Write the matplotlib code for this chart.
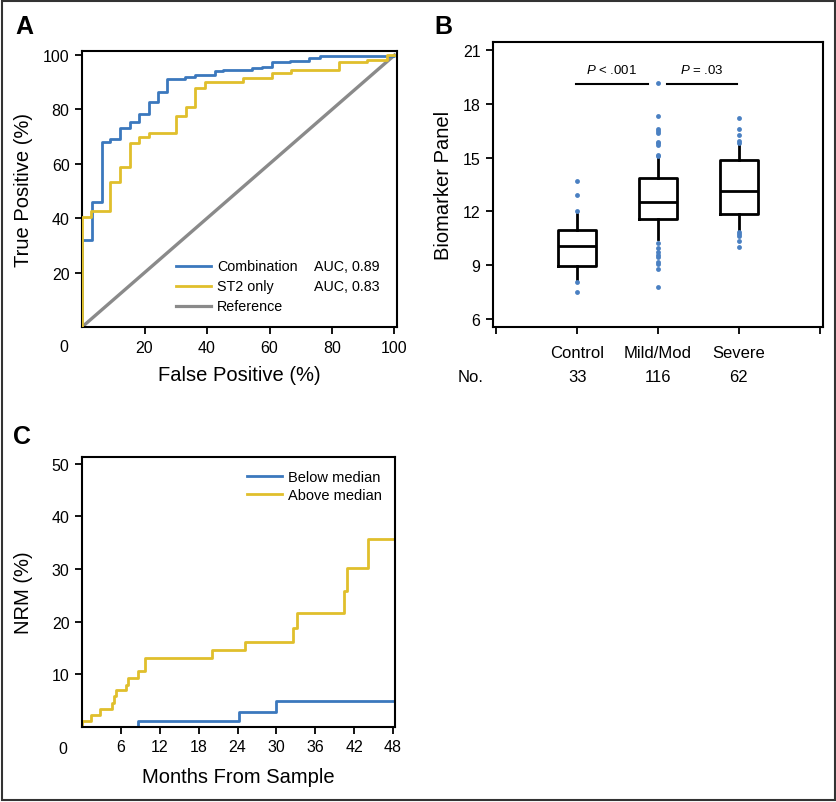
import matplotlib
matplotlib.use('Agg')
import matplotlib.pyplot as plt
from matplotlib.patches import Rectangle

plt.rcParams['font.family'] = ['Liberation Sans', 'DejaVu Sans']
plt.rcParams['mathtext.fontset'] = 'custom'
plt.rcParams['mathtext.it'] = 'Liberation Sans:italic'
plt.rcParams['mathtext.rm'] = 'Liberation Sans'

BLUE = '#3b78bd'
YELLOW = '#e0bf2c'
GRAY = '#8a8a8a'
DOT = '#4a80c2'

# Panel A: ROC curves (false positive %, true positive %)
combo_fpr = [0, 0, 3.3, 6.3, 8.9, 12.0, 15.2, 18.2, 21.4, 24.2, 27.2, 33.1, 36.3,
             42.7, 45.2, 54.4, 57.6, 60.8, 66.6, 72.8, 76.2, 100]
combo_tpr = [0, 32, 46, 68, 69.3, 73.2, 75.5, 78.3, 82.6, 86.5, 91.1, 91.8, 92.8,
             94.1, 94.6, 95.2, 95.8, 97.3, 97.9, 98.8, 99.5, 100]
st2_fpr = [0, 0, 3.0, 9.1, 12.1, 15.3, 18.2, 21.4, 30.2, 33.3, 36.3, 39.2, 51.4,
           60.8, 67.0, 82.1, 91.1, 97.5, 100]
st2_tpr = [0, 40.5, 42.8, 53.5, 59, 67.6, 69.8, 71.2, 77.7, 81, 87.8, 90, 91.6,
           93.4, 94.5, 97.3, 98.3, 100, 100]
ref_line = [0, 100]
roc_labels = ['Combination', 'ST2 only', 'Reference']
roc_auc = ['AUC, 0.89', 'AUC, 0.83', '']

# Panel B: box plot summary
groups = ['Control', 'Mild/Mod', 'Severe']
counts = ['33', '116', '62']
medians = [10.06, 12.54, 13.13]
q1s = [8.96, 11.57, 11.87]
q3s = [10.94, 13.87, 14.85]
whis_lo = [8.07, 10.48, 10.85]
whis_hi = [11.87, 15.11, 15.81]
fliers = [
    [13.72, 12.93, 12.02, 8.04, 7.48],
    [19.15, 17.35, 16.6, 16.5, 16.4, 15.9, 15.8, 15.7, 15.15, 15.07,
     10.26, 9.96, 9.74, 9.59, 9.44, 9.19, 9.04, 8.81, 7.8],
    [17.2, 16.6, 16.28, 15.94, 15.81, 10.85, 10.76, 10.63, 10.33, 10.02],
]

# Panel C: cumulative NRM (%) by months
below_t = [0, 8.7, 24.2, 29.9, 48]
below_v = [0, 1.1, 2.85, 4.95, 4.95]
above_t = [0, 0, 1.4, 2.8, 4.6, 5.0, 5.2, 6.8, 7.1, 8.7, 9.75, 20.0, 25.1,
           32.6, 33.1, 40.4, 40.9, 44.1, 48]
above_v = [0, 1.1, 2.3, 3.5, 4.6, 5.8, 7.0, 8.0, 9.4, 10.6, 13.2, 14.6, 16.1,
           18.9, 21.6, 25.9, 30.2, 35.8, 35.8]

fig = plt.figure(figsize=(8.37, 8.03), dpi=100)
fig.patches.append(Rectangle((0.002, 0.002), 0.996, 0.996, transform=fig.transFigure,
                             fill=False, edgecolor='#333333', lw=1.5))

def style(ax):
    for s in ax.spines.values():
        s.set_linewidth(1.5)
    ax.tick_params(direction='out', length=5, width=1.3, labelsize=11.5, pad=4)

# ---- A ----
axA = fig.add_axes([0.098, 0.5915, 0.3763, 0.3437])
style(axA)
axA.plot(ref_line, ref_line, color=GRAY, lw=2.4, zorder=1)
axA.plot(combo_fpr, combo_tpr, color=BLUE, lw=2.0, drawstyle='steps-post', zorder=2)
axA.plot(st2_fpr, st2_tpr, color=YELLOW, lw=2.0, drawstyle='steps-post', zorder=3)
axA.set_xlim(0, 100.8)
axA.set_ylim(0, 101.5)
axA.set_xticks([20, 40, 60, 80, 100])
axA.set_yticks([20, 40, 60, 80, 100])
axA.text(-0.058, -0.072, '0', transform=axA.transAxes, ha='center', va='center', fontsize=11.5)
axA.set_xlabel('False Positive (%)', fontsize=14.5)
axA.set_ylabel('True Positive (%)', fontsize=14.5)
axA.xaxis.set_label_coords(0.5, -0.138)
axA.yaxis.set_label_coords(-0.156, 0.5)
rows = [0.221, 0.149, 0.076]
for lab, auc, col, yr in zip(roc_labels, roc_auc, [BLUE, YELLOW, GRAY], rows):
    axA.plot([0.298, 0.41], [yr, yr], transform=axA.transAxes, color=col,
             lw=2.3 if col == GRAY else 2.0)
    axA.text(0.429, yr, lab, transform=axA.transAxes, va='center', fontsize=10.3)
    if auc:
        axA.text(0.737, yr, auc, transform=axA.transAxes, va='center', fontsize=10.3)
fig.text(0.029, 0.966, 'A', fontsize=18, fontweight='bold', ha='center', va='center')

# ---- B ----
axB = fig.add_axes([0.589, 0.5915, 0.3943, 0.3549])
style(axB)
stats = []
for i in range(3):
    stats.append(dict(med=medians[i], q1=q1s[i], q3=q3s[i], whislo=whis_lo[i],
                      whishi=whis_hi[i], fliers=fliers[i]))
axB.bxp(stats, positions=[1, 2, 3], widths=0.47, showcaps=False,
        boxprops=dict(color='black', lw=2),
        medianprops=dict(color='black', lw=2),
        whiskerprops=dict(color='black', lw=2),
        flierprops=dict(marker='o', markersize=3.5, markerfacecolor=DOT,
                        markeredgecolor='none'))
axB.set_xlim(-0.04, 4.04)
axB.set_ylim(5.55, 21.45)
axB.set_yticks([6, 9, 12, 15, 18, 21])
axB.set_xticks([0, 1, 2, 3, 4])
axB.set_xticklabels([''] + groups + [''], fontsize=12)
axB.tick_params(axis='x', pad=8)
axB.set_ylabel('Biomarker Panel', fontsize=14.5)
axB.yaxis.set_label_coords(-0.121, 0.5)
axB.text(-0.32, -0.175, 'No.', transform=axB.get_xaxis_transform(), ha='center',
         va='center', fontsize=12)
for i, n in enumerate(counts):
    axB.text(i + 1, -0.175, n, transform=axB.get_xaxis_transform(), ha='center',
             va='center', fontsize=12)
axB.plot([0.98, 1.88], [19.1, 19.1], color='black', lw=1.5)
axB.plot([2.11, 2.98], [19.1, 19.1], color='black', lw=1.5)
axB.text(1.43, 19.9, '$\\it{P}$ < .001', ha='center', va='center', fontsize=9.5)
axB.text(2.54, 19.9, '$\\it{P}$ = .03', ha='center', va='center', fontsize=9.5)
fig.text(0.53, 0.966, 'B', fontsize=18, fontweight='bold', ha='center', va='center')

# ---- C ----
axC = fig.add_axes([0.098, 0.0934, 0.374, 0.3362])
style(axC)
axC.step(below_t, below_v, where='post', color=BLUE, lw=2.0, label='Below median')
axC.step(above_t, above_v, where='post', color=YELLOW, lw=2.0, label='Above median')
axC.set_xlim(0, 48.3)
axC.set_ylim(0, 51.3)
axC.set_xticks([6, 12, 18, 24, 30, 36, 42, 48])
axC.set_yticks([10, 20, 30, 40, 50])
axC.text(-0.06, -0.078, '0', transform=axC.transAxes, ha='center', va='center', fontsize=11.5)
axC.set_xlabel('Months From Sample', fontsize=14.5)
axC.set_ylabel('NRM (%)', fontsize=14.5)
axC.xaxis.set_label_coords(0.5, -0.148)
axC.yaxis.set_label_coords(-0.157, 0.5)
axC.legend(loc='upper right', frameon=False, fontsize=10.5, handlelength=2.4,
           handletextpad=0.45, labelspacing=0.25, borderaxespad=0.5)
fig.text(0.026, 0.456, 'C', fontsize=18, fontweight='bold', ha='center', va='center')

fig.savefig('out.png', dpi=100)
